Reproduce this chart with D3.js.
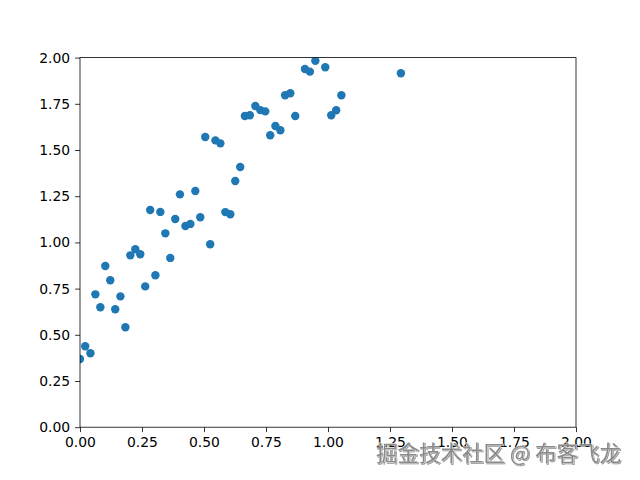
<!DOCTYPE html>
<html><head><meta charset="utf-8">
<script src="https://cdn.jsdelivr.net/npm/d3@7"></script>
<style>body{margin:0;background:#fff;}svg{display:block;}</style>
</head><body>
<svg id="c" width="640" height="480"></svg>
<script>
const xValues = [0.00,0.021,0.042,0.062,0.082,0.102,0.122,0.142,0.163,0.183,0.203,0.223,0.243,0.263,0.283,0.304,0.324,0.344,0.364,0.384,0.403,0.425,0.445,0.465,0.485,0.505,0.525,0.546,0.566,0.586,0.606,0.626,0.646,0.665,0.685,0.707,0.727,0.747,0.767,0.788,0.808,0.827,0.848,0.868,0.907,0.927,0.949,0.989,1.013,1.033,1.054,1.294];
const yValues = [0.369,0.438,0.400,0.719,0.649,0.872,0.795,0.638,0.708,0.541,0.930,0.963,0.936,0.762,1.175,0.822,1.165,1.049,0.916,1.127,1.260,1.089,1.100,1.278,1.136,1.570,0.990,1.552,1.536,1.164,1.152,1.332,1.408,1.684,1.688,1.738,1.716,1.709,1.580,1.630,1.607,1.796,1.807,1.684,1.938,1.924,1.983,1.948,1.688,1.715,1.796,1.915];
const xTicks = [0,0.25,0.5,0.75,1.0,1.25,1.5,1.75,2.0];
const yTicks = [0,0.25,0.5,0.75,1.0,1.25,1.5,1.75,2.0];
const watermark = "掘金技术社区 @ 布客飞龙";

const svg = d3.select("#c");
const L = 80, R = 576, T = 57.6, B = 427.2;
const x = d3.scaleLinear().domain([0,2]).range([L,R]);
const y = d3.scaleLinear().domain([0,2]).range([B,T]);

svg.append("defs").append("clipPath").attr("id","clip")
  .append("rect").attr("x",L).attr("y",T).attr("width",R-L).attr("height",B-T);

svg.append("g").attr("clip-path","url(#clip)")
  .selectAll("circle").data(xValues.map((v,i)=>[v,yValues[i]])).join("circle")
  .attr("cx",d=>x(d[0])).attr("cy",d=>y(d[1])).attr("r",4.2)
  .attr("fill","#1f77b4");

const font = "DejaVu Sans, sans-serif";
const xa = svg.append("g").attr("transform",`translate(0,${B})`)
  .call(d3.axisBottom(x).tickValues(xTicks).tickFormat(d3.format(".2f")).tickSizeOuter(0).tickSize(4.9).tickPadding(4.9));
const ya = svg.append("g").attr("transform",`translate(${L},0)`)
  .call(d3.axisLeft(y).tickValues(yTicks).tickFormat(d3.format(".2f")).tickSizeOuter(0).tickSize(4.9).tickPadding(4.9));
[xa,ya].forEach(a=>{
  a.select(".domain").remove();
  a.selectAll("line").attr("stroke","#000").attr("stroke-width",0.8);
  a.selectAll("text").attr("font-family",font).attr("font-size","13.9px").attr("fill","#000");
});

svg.append("rect").attr("x",L).attr("y",T).attr("width",R-L).attr("height",B-T)
  .attr("fill","none").attr("stroke","#000").attr("stroke-width",0.8);

svg.append("text").attr("x",376).attr("y",461)
  .attr("font-family","Noto Sans CJK SC, sans-serif").attr("font-size","21.5px")
  .attr("fill","#8a8a8a").attr("stroke","#fff").attr("stroke-width",0.6)
  .attr("paint-order","stroke")
  .style("filter","drop-shadow(1px 1px 0px rgba(60,60,60,0.5))")
  .text(watermark);
</script>
</body></html>
